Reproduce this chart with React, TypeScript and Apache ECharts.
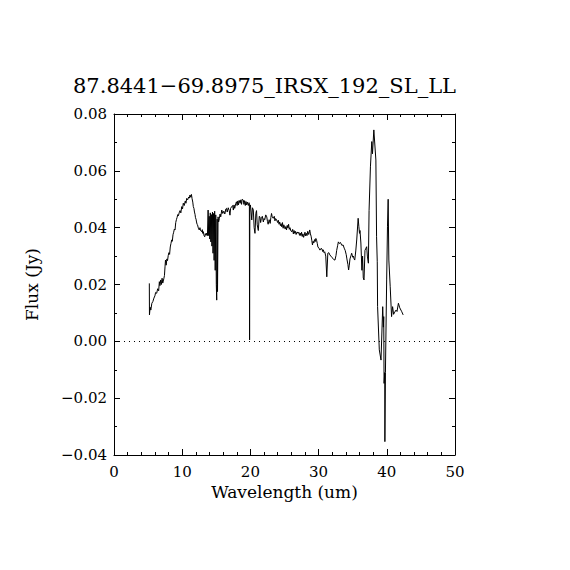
import React, { useEffect, useRef } from "react";
import * as echarts from "echarts";

const TITLE = "87.8441\u221269.8975_IRSX_192_SL_LL";
const X_NAME = "Wavelength (um)";
const Y_NAME = "Flux (Jy)";

const wavelength: number[] = [
  5.18, 5.2, 5.3, 5.4, 5.55, 5.7, 5.85, 6.0, 6.1, 6.26, 6.4, 6.55, 6.65, 6.74, 6.85, 6.95, 7.05, 7.15, 7.3, 7.4,
  7.48, 7.55, 7.65, 7.75, 7.85, 7.95, 8.05, 8.15, 8.25, 8.35, 8.46, 8.55, 8.65, 8.75, 8.85, 8.95, 9.05, 9.15, 9.25,
  9.35, 9.45, 9.55, 9.68, 9.8, 9.93, 10.05, 10.16, 10.3, 10.45, 10.55, 10.66, 10.8, 10.95, 11.05, 11.14, 11.25,
  11.35, 11.45, 11.55, 11.63, 11.72, 11.8, 11.88, 11.95, 12.03, 12.1, 12.18, 12.25, 12.33, 12.4, 12.5, 12.6,
  12.68, 12.75, 12.86, 12.95, 13.0, 13.1, 13.2, 13.3, 13.4, 13.5, 13.6, 13.7, 13.8, 13.88, 13.96, 14.04, 14.12,
  14.2, 14.28, 14.36, 14.44, 14.52, 14.6, 14.68, 14.76, 14.84, 14.92, 15.0, 15.06, 15.12, 15.18, 15.26, 15.34,
  15.45, 15.55, 15.65, 15.8, 15.95, 16.1, 16.25, 16.4, 16.5, 16.6, 16.75, 16.9, 17.0, 17.1, 17.26, 17.4, 17.5,
  17.6, 17.7, 17.85, 17.96, 18.05, 18.15, 18.25, 18.35, 18.5, 18.6, 18.7, 18.8, 18.96, 19.05, 19.15, 19.25, 19.35,
  19.45, 19.55, 19.7, 19.8, 19.85, 19.88, 19.92, 20.0, 20.1, 20.2, 20.3, 20.43, 20.55, 20.67, 20.8, 20.9, 21.0,
  21.16, 21.3, 21.4, 21.5, 21.6, 21.75, 21.9, 22.0, 22.1, 22.25, 22.4, 22.5, 22.6, 22.75, 22.9, 23.0, 23.1, 23.2,
  23.35, 23.5, 23.6, 23.7, 23.85, 24.0, 24.1, 24.2, 24.3, 24.4, 24.5, 24.6, 24.7, 24.8, 24.9, 25.0, 25.1, 25.2,
  25.3, 25.4, 25.5, 25.6, 25.7, 25.8, 25.95, 26.1, 26.2, 26.3, 26.4, 26.5, 26.6, 26.7, 26.85, 27.0, 27.1, 27.2,
  27.3, 27.4, 27.5, 27.6, 27.7, 27.8, 27.9, 28.0, 28.1, 28.2, 28.3, 28.4, 28.55, 28.7, 28.8, 28.9, 29.0, 29.1,
  29.2, 29.3, 29.4, 29.5, 29.6, 29.7, 29.8, 29.9, 30.05, 30.2, 30.35, 30.5, 30.6, 30.7, 30.8, 30.9, 31.05, 31.2,
  31.35, 31.5, 31.65, 31.8, 31.95, 32.1, 32.25, 32.4, 32.55, 32.65, 32.8, 32.9, 33.05, 33.2, 33.4, 33.6, 33.75,
  33.9, 34.05, 34.15, 34.3, 34.4, 34.5, 34.6, 34.75, 34.85, 35.0, 35.1, 35.2, 35.3, 35.45, 35.6, 35.8, 35.9, 36.0,
  36.07, 36.2, 36.35, 36.45, 36.55, 36.66, 36.8, 36.95, 37.05, 37.15, 37.3, 37.4, 37.6, 37.8, 37.9, 38.1, 38.4,
  38.5, 38.6, 38.65, 38.9, 39.15, 39.4, 39.5, 39.55, 39.6, 39.7, 39.72, 39.8, 39.98, 40.1, 40.2, 40.3, 40.5, 40.7,
  40.85, 41.0, 41.1, 41.35, 41.5, 41.7, 41.9, 42.2, 42.4,
];

const flux: number[] = [
  0.0204, 0.0093, 0.012, 0.011, 0.0134, 0.014, 0.0152, 0.016, 0.0172, 0.0169, 0.0185, 0.0178, 0.021, 0.0196, 0.0216,
  0.02, 0.0222, 0.0205, 0.022, 0.0232,
  0.0262, 0.0286, 0.0268, 0.029, 0.0284, 0.0302, 0.0312, 0.0306, 0.0332, 0.0344, 0.0357, 0.0352, 0.0375, 0.0384,
  0.0395, 0.0392, 0.0418, 0.0428, 0.0436,
  0.0446, 0.0442, 0.0452, 0.046, 0.0452, 0.0474, 0.0466, 0.0486, 0.0478, 0.0494, 0.0486, 0.0503, 0.0498, 0.0508,
  0.0504, 0.0515, 0.0507,
  0.0517, 0.0502, 0.049, 0.0474, 0.0468, 0.0455, 0.0447, 0.0435, 0.043, 0.042, 0.0412, 0.041, 0.0402, 0.0396,
  0.0392, 0.04,
  0.0392, 0.0388, 0.0386, 0.0393, 0.038, 0.0386, 0.0372, 0.0368, 0.0379, 0.0373, 0.0381, 0.0372, 0.0462, 0.0372,
  0.044, 0.036, 0.0452,
  0.035, 0.0446, 0.0335, 0.0455, 0.031, 0.045, 0.0285, 0.0458, 0.025, 0.0445, 0.02, 0.0145, 0.043, 0.0175,
  0.0438, 0.042,
  0.0432, 0.0448, 0.0438, 0.0462, 0.045, 0.0458, 0.0448, 0.0466, 0.0468, 0.0455, 0.047, 0.046, 0.0444, 0.0468,
  0.0474, 0.0478, 0.0462,
  0.048, 0.0468, 0.0485, 0.0491, 0.0478, 0.0494, 0.048, 0.0496, 0.0486, 0.0498, 0.0482, 0.05, 0.0497, 0.0482,
  0.0495, 0.0478, 0.0492,
  0.048, 0.049, 0.0478, 0.0488, 0.0485, 0.0005, 0.047, 0.048, 0.0455, 0.0427, 0.047, 0.0462, 0.04, 0.038, 0.045,
  0.046, 0.041,
  0.039, 0.044, 0.0438, 0.0418, 0.0432, 0.044, 0.042, 0.0432, 0.0428, 0.0445, 0.0438, 0.0422, 0.0412, 0.0428,
  0.0415, 0.0436, 0.045, 0.0438,
  0.0433, 0.044, 0.0424, 0.0432, 0.0427, 0.0418, 0.0426, 0.0412, 0.042, 0.0407, 0.0414, 0.0403, 0.0418, 0.0398,
  0.041, 0.0402, 0.0395, 0.0404,
  0.0392, 0.0408, 0.0399, 0.0412, 0.0394, 0.04, 0.0388, 0.0386, 0.0394, 0.0378, 0.039, 0.038, 0.0387, 0.0376,
  0.0385, 0.038, 0.0384, 0.0373,
  0.0381, 0.0372, 0.0384, 0.0369, 0.0378, 0.0366, 0.0374, 0.0384, 0.0371, 0.038, 0.0372, 0.0387, 0.0376, 0.0392,
  0.0378, 0.037, 0.0356, 0.0339,
  0.0352, 0.0346, 0.0358, 0.0351, 0.0362, 0.0356, 0.0345, 0.0332, 0.0328, 0.0321, 0.0327, 0.0325, 0.0316, 0.0322,
  0.0312, 0.0315, 0.03, 0.0227,
  0.031, 0.0312, 0.0304, 0.03, 0.0295, 0.0292, 0.0287, 0.0286, 0.0302, 0.032, 0.0338, 0.035, 0.0344, 0.0348,
  0.0338, 0.0339, 0.0328,
  0.032, 0.0305, 0.029, 0.027, 0.0251, 0.0268, 0.029, 0.0302, 0.031, 0.0296, 0.03, 0.029, 0.0286, 0.0318, 0.036,
  0.0433, 0.0405, 0.038,
  0.039, 0.0346, 0.025, 0.03, 0.0223, 0.0216, 0.032, 0.0328, 0.0333, 0.03, 0.0275, 0.046, 0.0614, 0.0703, 0.066,
  0.0744, 0.0638,
  0.0368, 0.028, 0.0122, -0.003, -0.0066, 0.0122, 0.005, 0.0087, -0.0148, -0.011, -0.0353, -0.011, 0.0216, 0.0403,
  0.05, 0.0286, 0.0192, 0.0087,
  0.0122, 0.0095, 0.01, 0.011, 0.0105, 0.0134, 0.0118, 0.0104, 0.0093,
];

const X_MIN = 0;
const X_MAX = 50;
const X_STEP = 10;
const Y_MIN = -0.04;
const Y_MAX = 0.08;
const Y_STEP = 0.02;

const FONT = "DejaVu Serif";

export default function App() {
  const ref = useRef<HTMLDivElement>(null);

  useEffect(() => {
    if (!ref.current) return;
    const chart = echarts.init(ref.current, null, { renderer: "svg" });
    const n = Math.min(wavelength.length, flux.length);
    const points = wavelength.slice(0, n).map((w, i) => [w, flux[i]]);

    const axisCommon = {
      type: "value" as const,
      axisLine: { show: true, onZero: false, lineStyle: { color: "#000", width: 1 } },
      axisTick: { show: true, inside: true, length: 6, lineStyle: { color: "#000", width: 1 } },
      minorTick: { show: true, length: 3, lineStyle: { color: "#000", width: 1 } },
      splitLine: { show: false },
      minorSplitLine: { show: false },
    };

    chart.setOption({
      animation: false,
      backgroundColor: "#fff",
      title: {
        text: TITLE,
        left: 68,
        top: 70,
        textStyle: { fontFamily: FONT, fontSize: 21, fontWeight: "normal", color: "#000" },
      },
      grid: { left: 114, top: 114, right: 115, bottom: 115, containLabel: false },
      xAxis: [
        {
          ...axisCommon,
          position: "bottom",
          min: X_MIN,
          max: X_MAX,
          interval: X_STEP,
          minorTick: { ...axisCommon.minorTick, splitNumber: 5 },
          axisLabel: { show: true, margin: 9, color: "#000", fontFamily: FONT, fontSize: 15 },
          name: X_NAME,
          nameLocation: "middle",
          nameGap: 27,
          nameTextStyle: { fontFamily: FONT, fontSize: 17, color: "#000" },
        },
        {
          ...axisCommon,
          position: "top",
          min: X_MIN,
          max: X_MAX,
          interval: X_STEP,
          minorTick: { ...axisCommon.minorTick, splitNumber: 5 },
          axisLabel: { show: false },
        },
      ],
      yAxis: [
        {
          ...axisCommon,
          position: "left",
          min: Y_MIN,
          max: Y_MAX,
          interval: Y_STEP,
          minorTick: { ...axisCommon.minorTick, splitNumber: 2 },
          axisLabel: {
            show: true,
            margin: 7,
            color: "#000",
            fontFamily: FONT,
            fontSize: 15,
            formatter: (v: number) => (v < 0 ? "\u2212" + Math.abs(v).toFixed(2) : v.toFixed(2)),
          },
          name: Y_NAME,
          nameLocation: "middle",
          nameGap: 74,
          nameRotate: 90,
          nameTextStyle: { fontFamily: FONT, fontSize: 17, color: "#000" },
        },
        {
          ...axisCommon,
          position: "right",
          min: Y_MIN,
          max: Y_MAX,
          interval: Y_STEP,
          minorTick: { ...axisCommon.minorTick, splitNumber: 2 },
          axisLabel: { show: false },
        },
      ],
      series: [
        {
          type: "line",
          data: points,
          xAxisIndex: 0,
          yAxisIndex: 0,
          symbol: "none",
          showSymbol: false,
          lineStyle: { color: "#000", width: 1 },
          markLine: {
            silent: true,
            symbol: "none",
            label: { show: false },
            lineStyle: { color: "#000", width: 1, type: [1, 4] },
            data: [{ yAxis: 0 }],
          },
        },
      ],
    });

    return () => chart.dispose();
  }, []);

  return (
    <div
      ref={ref}
      style={{ position: "fixed", left: 0, top: 0, width: 570, height: 570, background: "#fff" }}
    />
  );
}
